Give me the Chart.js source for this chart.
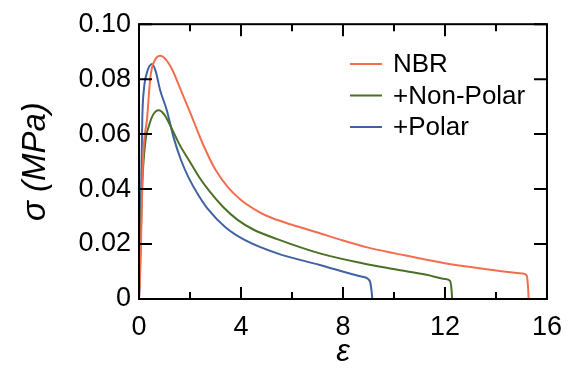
<!DOCTYPE html>
<html>
<head>
<meta charset="utf-8">
<script src="https://cdn.jsdelivr.net/npm/chart.js@4.4.0/dist/chart.umd.min.js"></script>
<style>
html, body { margin: 0; padding: 0; background: #fff; }
</style>
</head>
<body>
<canvas id="canvas" width="574" height="383"></canvas>
<script>
// series (strain, stress in MPa)
var seriesNames = ['NBR', '+Non-Polar', '+Polar'];
var seriesColors = ['#F26E4F', '#4B7127', '#4062A4'];

var nbrX = [0, 0.06, 0.15, 0.32, 0.45, 0.6, 0.83, 1.05, 1.3, 1.65, 2.0, 2.5, 3.0, 3.5, 4.0, 4.5, 5.0, 6.0, 7.0, 8.0, 9.0, 10.0, 12.0, 14.0, 15.04, 15.2, 15.26, 15.28];
var nbrY = [0, 0.013, 0.049, 0.066, 0.081, 0.0865, 0.0885, 0.0872, 0.0835, 0.0758, 0.068, 0.0565, 0.047, 0.0405, 0.036, 0.0328, 0.0303, 0.0270, 0.0242, 0.0213, 0.0187, 0.0167, 0.0130, 0.0104, 0.0093, 0.0086, 0.004, 0];

var nonPolarX = [0, 0.05, 0.12, 0.26, 0.38, 0.55, 0.77, 1.0, 1.31, 1.6, 1.96, 2.35, 2.73, 3.3, 3.88, 4.5, 5.42, 7.09, 8.76, 10.04, 11.32, 12.0, 12.2, 12.26, 12.28];
var nonPolarY = [0, 0.015, 0.04, 0.058, 0.0627, 0.067, 0.0687, 0.067, 0.0615, 0.056, 0.0505, 0.0445, 0.0396, 0.0335, 0.0287, 0.0252, 0.0218, 0.0166, 0.013, 0.0108, 0.0087, 0.0073, 0.0066, 0.003, 0];

var polarX = [0, 0.05, 0.13, 0.19, 0.3, 0.51, 0.65, 0.83, 1.09, 1.35, 1.65, 1.96, 2.35, 2.73, 3.4, 4.14, 5.42, 7.09, 8.76, 9.05, 9.12, 9.15];
var polarY = [0, 0.02, 0.066, 0.076, 0.082, 0.0855, 0.083, 0.076, 0.0687, 0.059, 0.0505, 0.0439, 0.0375, 0.0324, 0.026, 0.0215, 0.0166, 0.0124, 0.0081, 0.0066, 0.003, 0];

var xTicks = [0, 4, 8, 12, 16];
var xMinorTicks = [2, 6, 10, 14];
var yTicks = [0, 0.02, 0.04, 0.06, 0.08, 0.10];

var FONT = '"Liberation Sans", Arial, Helvetica, sans-serif';

function toPoints(xs, ys) {
	var pts = [];
	for (var i = 0; i < xs.length; i++) {
		pts.push({x: xs[i], y: ys[i]});
	}
	return pts;
}

function makeSet(i, xs, ys) {
	return {
		label: seriesNames[i],
		data: toPoints(xs, ys),
		borderColor: seriesColors[i],
		backgroundColor: seriesColors[i],
		borderWidth: 2,
		pointRadius: 0,
		fill: false,
		cubicInterpolationMode: 'monotone'
	};
}

// frame, inward ticks, legend and axis titles
var framePlugin = {
	id: 'frame',
	afterDraw: function(chart) {
		var ctx = chart.ctx;
		var a = chart.chartArea;
		var xs = chart.scales.x, ys = chart.scales.y;
		ctx.save();
		ctx.strokeStyle = '#000';
		ctx.lineWidth = 2;
		ctx.strokeRect(a.left, a.top, a.right - a.left, a.bottom - a.top);
		ctx.beginPath();
		xTicks.forEach(function(v) {
			var px = xs.getPixelForValue(v);
			ctx.moveTo(px, a.bottom); ctx.lineTo(px, a.bottom - 12);
			ctx.moveTo(px, a.top); ctx.lineTo(px, a.top + 12);
		});
		xMinorTicks.forEach(function(v) {
			var px = xs.getPixelForValue(v);
			ctx.moveTo(px, a.bottom); ctx.lineTo(px, a.bottom - 7);
			ctx.moveTo(px, a.top); ctx.lineTo(px, a.top + 7);
		});
		yTicks.forEach(function(v) {
			var py = ys.getPixelForValue(v);
			ctx.moveTo(a.left, py); ctx.lineTo(a.left + 13, py);
			ctx.moveTo(a.right, py); ctx.lineTo(a.right - 13, py);
		});
		ctx.stroke();

		// legend
		ctx.font = '26px ' + FONT;
		ctx.textBaseline = 'middle';
		ctx.textAlign = 'left';
		chart.data.datasets.forEach(function(ds, i) {
			var y = 64 + i * 31.5;
			ctx.strokeStyle = ds.borderColor;
			ctx.lineWidth = 2;
			ctx.beginPath();
			ctx.moveTo(350, y); ctx.lineTo(382, y);
			ctx.stroke();
			ctx.fillStyle = '#000';
			ctx.fillText(ds.label, 393, y + 1);
		});

		// axis titles
		ctx.fillStyle = '#000';
		ctx.textAlign = 'center';
		ctx.font = 'italic 31px ' + FONT;
		ctx.fillText('\u03b5', (a.left + a.right) / 2, 352);
		ctx.font = 'italic 33px ' + FONT;
		ctx.translate(36, (a.top + a.bottom) / 2);
		ctx.rotate(-Math.PI / 2);
		ctx.fillText('\u03c3 (MPa)', 0, 0);
		ctx.restore();
	}
};

window.onload = function() {
	var ctx = document.getElementById('canvas').getContext('2d');
	window.myChart = new Chart(ctx, {
		type: 'line',
		data: {
			datasets: [
				makeSet(0, nbrX, nbrY),
				makeSet(1, nonPolarX, nonPolarY),
				makeSet(2, polarX, polarY)
			]
		},
		options: {
			responsive: false,
			animation: false,
			layout: { padding: { left: 0, right: 19, top: 24, bottom: 0 } },
			plugins: {
				legend: { display: false },
				tooltip: { enabled: false }
			},
			scales: {
				x: {
					type: 'linear',
					min: 0,
					max: 16,
					afterFit: function(scale) { scale.height = 84; },
					afterBuildTicks: function(scale) {
						scale.ticks = xTicks.map(function(v) { return {value: v}; });
					},
					grid: { display: false, drawTicks: false },
					border: { display: false },
					ticks: {
						padding: 12,
						color: '#000',
						font: { family: FONT, size: 27 },
						maxRotation: 0,
						callback: function(v) { return String(v); }
					}
				},
				y: {
					type: 'linear',
					min: 0,
					max: 0.1,
					afterFit: function(scale) { scale.width = 139; },
					afterBuildTicks: function(scale) {
						scale.ticks = yTicks.map(function(v) { return {value: v}; });
					},
					grid: { display: false, drawTicks: false },
					border: { display: false },
					ticks: {
						padding: 8,
						color: '#000',
						font: { family: FONT, size: 27 },
						callback: function(v) { return v === 0 ? '0' : v.toFixed(2); }
					}
				}
			}
		},
		plugins: [framePlugin]
	});
};
</script>
</body>
</html>
